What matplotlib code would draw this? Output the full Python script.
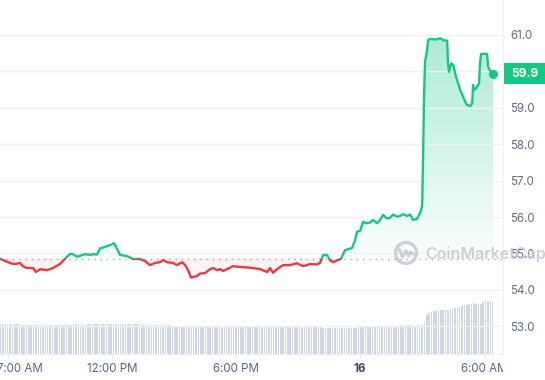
import numpy as np
import matplotlib
matplotlib.use("Agg")
import matplotlib.pyplot as plt
from matplotlib.patches import Rectangle, Ellipse, Circle
from matplotlib.path import Path
from matplotlib.lines import Line2D
from matplotlib.colors import to_rgb
import matplotlib.transforms as mtransforms

plt.rcParams['font.family'] = ['Inter', 'DejaVu Sans']

# time in hours from midnight of the 15th, price in USD
t_hours = [6.59, 6.74, 6.98, 7.22, 7.41, 7.56, 7.70, 7.90, 8.19, 8.33,
           8.53, 8.86, 9.15, 9.49, 9.73, 9.98, 10.12, 10.32, 10.70, 10.94,
           11.09, 11.28, 11.43, 11.67, 11.91, 12.11, 12.30, 12.40, 12.73, 13.02,
           13.36, 13.61, 13.85, 14.09, 14.33, 14.48, 14.67, 14.96, 15.15, 15.40,
           15.54, 15.69, 15.83, 16.12, 16.27, 16.51, 16.75, 16.90, 17.09, 17.23,
           17.38, 17.57, 17.86, 18.20, 18.69, 19.17, 19.51, 19.65, 19.80, 19.99,
           20.28, 20.62, 20.96, 21.25, 21.59, 21.93, 22.07, 22.22, 22.41, 22.56,
           22.70, 22.89, 23.09, 23.28, 23.43, 23.62, 23.77, 23.86, 24.01, 24.15,
           24.30, 24.49, 24.64, 24.83, 24.97, 25.12, 25.31, 25.46, 25.60, 25.80,
           25.94, 26.09, 26.28, 26.43, 26.57, 26.76, 26.91, 27.01, 27.05, 27.10,
           27.15, 27.25, 27.30, 27.39, 27.54, 27.73, 27.88, 28.02, 28.22, 28.26,
           28.31, 28.41, 28.51, 28.65, 28.85, 28.99, 29.09, 29.18, 29.33, 29.43,
           29.47, 29.52, 29.62, 29.76, 29.81, 29.86, 30.05, 30.15, 30.20, 30.30,
           30.44]
price = [54.86, 54.82, 54.76, 54.71, 54.72, 54.74, 54.65, 54.60, 54.60, 54.49,
         54.57, 54.54, 54.60, 54.71, 54.85, 54.99, 54.98, 54.91, 54.98, 54.96,
         54.98, 54.97, 55.14, 55.18, 55.23, 55.28, 55.07, 54.96, 54.93, 54.85,
         54.85, 54.79, 54.68, 54.74, 54.76, 54.82, 54.76, 54.74, 54.68, 54.76,
         54.68, 54.54, 54.34, 54.38, 54.45, 54.46, 54.57, 54.60, 54.54, 54.57,
         54.52, 54.57, 54.65, 54.63, 54.61, 54.57, 54.49, 54.60, 54.47, 54.57,
         54.68, 54.68, 54.73, 54.65, 54.71, 54.70, 54.74, 54.96, 54.96, 54.81,
         54.76, 54.81, 54.86, 55.09, 55.12, 55.15, 55.37, 55.60, 55.62, 55.87,
         55.83, 55.85, 55.92, 55.83, 55.92, 56.06, 55.96, 55.98, 56.07, 56.01,
         56.03, 56.08, 56.03, 56.07, 55.92, 55.95, 56.11, 56.30, 57.48, 59.31,
         60.27, 60.59, 60.86, 60.89, 60.88, 60.88, 60.91, 60.86, 60.84, 60.22,
         59.99, 60.22, 60.18, 59.85, 59.49, 59.31, 59.17, 59.08, 59.05, 59.12,
         59.63, 59.49, 59.54, 59.67, 60.22, 60.48, 60.48, 60.48, 60.13, 60.02,
         59.94]
open_price = 54.86

# volume (millions), one bar per interval
volume = [3.0, 3.0, 3.0, 3.0, 3.0, 3.0, 3.0, 3.0,
          2.9, 2.9, 2.9, 2.9, 2.9, 2.9, 2.9, 2.9, 2.9, 2.9, 2.9, 2.9,
          2.9, 2.9, 2.9, 2.9, 2.9, 2.9, 2.9, 2.9, 2.9, 2.9, 2.9,
          3.0, 3.0, 3.0, 2.9, 2.9, 2.9,
          3.0, 3.0, 3.0, 3.0, 3.0, 3.0, 3.0, 3.0, 3.0, 3.0, 3.0, 3.0,
          3.0, 3.0, 3.0, 3.0, 3.0, 3.0, 3.0, 3.0, 3.0, 3.0, 3.0,
          2.9, 2.9, 2.9, 2.9, 2.9, 2.9, 2.9, 2.9, 2.9, 2.9, 2.9, 2.9, 2.9,
          2.8, 2.8, 2.8, 2.8, 2.8, 2.8, 2.8, 2.8, 2.8, 2.8, 2.8, 2.8, 2.8,
          2.8, 2.8, 2.8, 2.8, 2.8, 2.8, 2.8, 2.8, 2.8, 2.8, 2.8, 2.8, 2.8,
          2.8, 2.8, 2.8, 2.8, 2.8, 2.8, 2.8, 2.8, 2.8, 2.8, 2.8, 2.8, 2.8,
          2.8, 2.8, 2.8, 2.8,
          2.7, 2.7, 2.7, 2.7, 2.7, 2.7, 2.7, 2.7, 2.7, 2.7, 2.7,
          2.7, 2.7, 2.7, 2.7, 2.7, 2.7, 2.7, 2.7, 2.7, 2.7,
          2.6, 2.6, 2.6, 2.6, 2.6, 2.6, 2.6, 2.6, 2.6, 2.6, 2.6, 2.6, 2.6, 2.6, 2.6,
          2.7, 2.7, 2.7,
          2.8, 2.8, 2.8, 2.8, 2.8, 2.8, 2.8, 2.8, 2.8, 2.8, 2.8, 2.8, 2.8, 2.8,
          2.9, 2.9, 2.8, 2.9, 2.9, 2.9, 2.9, 2.8, 2.9, 2.9, 2.9,
          3.2, 3.9, 4.1, 4.2, 4.3, 4.3, 4.4, 4.4, 4.4, 4.4, 4.4, 4.5, 4.6, 4.6,
          4.7, 4.7, 4.8, 4.9, 4.9, 5.0, 5.0, 5.1, 5.0, 5.0, 5.0, 5.2, 5.3, 5.3,
          5.3, 5.2]

tick_hours = [7, 12, 18, 24, 30]
tick_labels = ["7:00 AM", "12:00 PM", "6:00 PM", "16", "6:00 AM"]
price_ticks = [53, 54, 55, 56, 57, 58, 59, 60, 61]

green = "#16c784"
red = "#ea3943"
t = np.array(t_hours)
p = np.array(price)

W, H = 545, 380
fig = plt.figure(figsize=(W / 100, H / 100), dpi=100)
ax = fig.add_axes([0, 1 - 354 / H, 503 / W, 354 / H])
axv = ax.twinx()
ax.set_zorder(2)
ax.patch.set_visible(False)
axv.set_zorder(1)

# volume bars
vt = np.linspace(t[0] + 0.03, t[-1] - 0.02, len(volume))
axv.bar(vt, volume, width=0.075, color="#cfd6e4", linewidth=0)
axv.set_ylim(0, 35.4)
axv.set_yticks([])
for s in axv.spines.values():
    s.set_visible(False)

# gradient fills, clipped to the area between line and open price
top_verts = list(zip(t, np.maximum(p, open_price))) + [(t[-1], open_price), (t[0], open_price)]
bot_verts = list(zip(t, np.minimum(p, open_price))) + [(t[-1], open_price), (t[0], open_price)]
g = np.zeros((256, 1, 4))
g[..., :3] = to_rgb(green)
g[..., 3] = np.linspace(0.02, 0.36, 256)[:, None]
im = ax.imshow(g, extent=[t[0], t[-1], open_price, 61.0], origin="lower",
               aspect="auto", zorder=1, interpolation="bilinear")
im.set_clip_path(Path(top_verts), transform=ax.transData)
r = np.zeros((256, 1, 4))
r[..., :3] = to_rgb(red)
r[..., 3] = np.linspace(0.02, 0.08, 256)[:, None]
im2 = ax.imshow(r, extent=[t[0], t[-1], 54.3, open_price], origin="lower",
                aspect="auto", zorder=1, interpolation="bilinear")
im2.set_clip_path(Path(bot_verts), transform=ax.transData)
ax.set_xlim(6.59, 30.92)
ax.set_ylim(52.24, 61.96)

# line coloured above / below the open price
up_clip = Rectangle((0, open_price), 100, 100, transform=ax.transData)
dn_clip = Rectangle((0, open_price - 100), 100, 100, transform=ax.transData)
l1, = ax.plot(t, p, color=green, lw=1.7, zorder=4, solid_joinstyle="round")
l1.set_clip_path(up_clip)
l2, = ax.plot(t, p, color=red, lw=1.7, zorder=4, solid_joinstyle="round")
l2.set_clip_path(dn_clip)
ax.plot([t[-1]], [p[-1]], marker="o", linestyle="none", markerfacecolor=green,
        markeredgecolor=green, ms=5.5, zorder=5)

ax.axhline(open_price, color="#a1a7bb", lw=1, ls=(0, (1, 3.5)), zorder=3)

# axes styling
ax.yaxis.tick_right()
ax.set_yticks(price_ticks)
ax.set_yticklabels([f"{v:.1f}" for v in price_ticks])
ax.grid(axis="y", color="#eff2f5", lw=1, zorder=0)
ax.tick_params(axis="y", length=0, pad=5, labelsize=8.3, labelcolor="#616e85")
ax.set_xticks(tick_hours)
ax.set_xticklabels(tick_labels)
ax.tick_params(axis="x", length=3, color="#e3e6ec", pad=3.5, labelsize=8.3,
               labelcolor="#58667e")
for s in ["top", "left"]:
    ax.spines[s].set_visible(False)
ax.spines["bottom"].set_color("#eff2f5")
ax.spines["right"].set_color("#eff2f5")

labels = ax.get_xticklabels()
labels[0].set_transform(labels[0].get_transform() +
                        mtransforms.ScaledTranslation(0.115, 0, fig.dpi_scale_trans))
labels[3].set_fontweight("bold")
labels[3].set_color("#3d4659")
clipbox = mtransforms.TransformedBbox(mtransforms.Bbox([[0, 0], [503 / W, 1]]), fig.transFigure)
labels[4].set_clip_on(True)
labels[4].set_clip_box(clipbox)

# current price tag
blend = mtransforms.blended_transform_factory(ax.transAxes, ax.transData)
ax.add_patch(Rectangle((1.002, p[-1] - 0.28), 0.082, 0.56, transform=blend,
                       facecolor=green, edgecolor="none", clip_on=False, zorder=6))
ax.text(1.043, p[-1], "59.9", transform=blend, ha="center", va="center",
        color="white", fontsize=8.6, fontweight="bold", zorder=7, clip_on=False)

# watermark
wm = "#c3c8d3"
fig.patches.append(Ellipse((406 / W, 1 - 253 / H), 21 / W, 21 / H, transform=fig.transFigure,
                           facecolor="none", edgecolor=wm, lw=2.4, alpha=0.85, zorder=8))
mx = np.array([-6.5, -3.5, 0, 2.5, 4.5, 7]) + 406
my = np.array([-3, 4, -2, 3, -1, 1]) + 253
fig.lines.append(Line2D(mx / W, 1 - my / H, transform=fig.transFigure, color=wm,
                        lw=2.2, alpha=0.85, zorder=8))
fig.text(425 / W, 1 - 254 / H, "CoinMarketCap", ha="left", va="center", fontsize=11.5,
         fontweight="semibold", color=wm, alpha=0.85, zorder=8)

fig.savefig("out.png", dpi=100)
